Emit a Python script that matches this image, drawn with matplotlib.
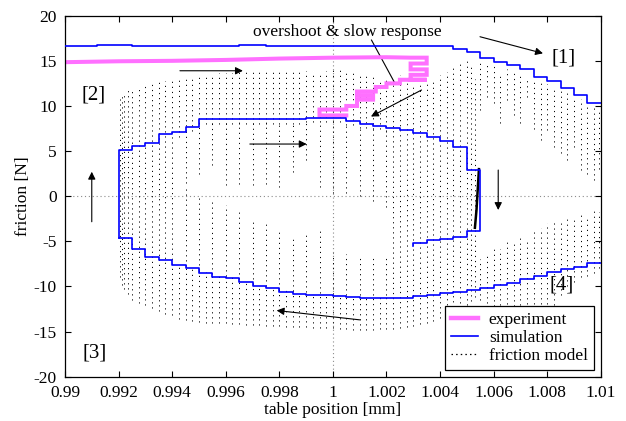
import numpy as np
import matplotlib
matplotlib.use("Agg")
import matplotlib.pyplot as plt
from matplotlib.lines import Line2D

plt.rcParams['font.family'] = ['Liberation Serif', 'DejaVu Serif']
plt.rcParams['axes.unicode_minus'] = False

# measured friction (polyline vertices)
exp_x = [0.9900, 0.9920, 0.9940, 0.9960, 0.9980, 1.0000, 1.0020, 1.0029,
         1.0035, 1.0035, 1.0029, 1.0029, 1.0035, 1.0035, 1.0029, 1.0029, 1.0035, 1.0035,
         1.0025, 1.0025, 1.0020, 1.0020, 1.0016, 1.0016, 1.0009, 1.0009, 1.0015, 1.0015,
         1.0009, 1.0009, 1.0005, 1.0005, 0.9995, 0.9995, 1.0005]
exp_y = [14.85, 14.95, 15.0, 15.1, 15.25, 15.35, 15.4, 15.35,
         15.35, 14.7, 14.7, 14.05, 14.05, 13.45, 13.45, 12.9, 12.9, 12.9,
         12.9, 12.5, 12.5, 12.1, 12.1, 11.6, 11.6, 11.15, 11.15, 10.7,
         10.7, 10.0, 10.0, 9.6, 9.6, 8.95, 8.95]

# simulation, upper branch (step levels)
sim_top_x = [0.9900, 0.9912, 0.9925, 0.9950, 0.9965, 0.9975, 0.9985, 1.0000, 1.0020,
             1.0030, 1.0045, 1.0050, 1.0055, 1.0060, 1.0065, 1.0070, 1.0075, 1.0080,
             1.0085, 1.0090, 1.0095, 1.0100]
sim_top_y = [16.6, 16.7, 16.6, 16.6, 16.7, 16.6, 16.6, 16.65, 16.6,
             16.6, 16.3, 16.0, 15.3, 14.9, 14.5, 14.1, 13.2, 12.8,
             12.0, 11.2, 10.3, 10.3]

# simulation, lower branch
sim_bot_x = [0.9920, 0.9925, 0.9930, 0.9935, 0.9940, 0.9945, 0.9950, 0.9955, 0.9960,
             0.9965, 0.9970, 0.9975, 0.9980, 0.9985, 0.9990, 0.9995, 1.0000, 1.0005,
             1.0010, 1.0015, 1.0020, 1.0025, 1.0030, 1.0035, 1.0040, 1.0045, 1.0050,
             1.0055, 1.0060, 1.0065, 1.0070, 1.0075, 1.0080, 1.0085, 1.0090, 1.0095, 1.0100]
sim_bot_y = [-4.6, -5.8, -6.7, -7.1, -7.6, -8.0, -8.5, -8.9, -9.1,
             -9.5, -10.0, -10.2, -10.6, -10.8, -10.95, -11.0, -11.1, -11.2,
             -11.25, -11.3, -11.3, -11.25, -11.1, -10.95, -10.75, -10.6, -10.4,
             -10.2, -9.85, -9.6, -9.2, -8.8, -8.4, -8.1, -7.8, -7.4, -7.4]

# simulation, inner loop
sim_in_x = [0.9920, 0.9920, 0.9925, 0.9930, 0.9935, 0.9940, 0.9945, 0.9950, 0.9990,
            1.0005, 1.0010, 1.0015, 1.0020, 1.0025, 1.0030, 1.0035, 1.0040, 1.0045,
            1.0050, 1.0055, 1.0050, 1.0045, 1.0040, 1.0035, 1.0030]
sim_in_y = [-4.6, 5.1, 5.6, 5.9, 6.9, 7.1, 7.7, 8.5, 8.65,
            8.3, 8.05, 7.8, 7.55, 7.3, 7.0, 6.6, 6.15, 5.4,
            2.9, -3.9, -4.5, -4.7, -4.85, -5.2, -5.5]

# friction model strands: (x, top, bottom)
fm_left = [(0.99205, 10.8, -9.0), (0.99212, 11.2, -9.8), (0.99220, 11.5, -10.3),
           (0.99235, 11.8, -10.8), (0.99250, 12.0, -11.5), (0.99275, 12.2, -11.8),
           (0.99300, 12.4, -12.0), (0.99325, 12.6, -12.4), (0.99350, 12.7, -12.7),
           (0.99375, 12.8, -13.0), (0.99400, 12.9, -13.2)]
fm_upper = [(0.99425, 13.0, 6.6), (0.99450, 13.1, 7.2), (0.99475, 13.2, 7.2),
            (0.99500, 13.3, 8.0), (0.99525, 13.4, 8.0), (0.99550, 13.5, 8.0),
            (0.99575, 13.6, 8.0), (0.99600, 13.6, 8.0), (0.99625, 13.7, 8.0),
            (0.99650, 13.8, 8.0), (0.99675, 13.8, 8.0), (0.99700, 13.9, 8.0),
            (0.99725, 14.0, 8.0), (0.99750, 14.0, 8.0), (0.99775, 14.1, 8.0),
            (0.99800, 14.0, 8.0), (0.99825, 14.1, 8.0), (0.99850, 14.0, 8.0),
            (0.99875, 14.0, 8.0), (0.99900, 13.9, 8.2), (0.99925, 13.8, 8.2),
            (0.99950, 13.7, 8.2), (0.99975, 13.9, 8.2), (1.00000, 14.2, 8.2),
            (1.00025, 14.1, 8.2), (1.00050, 14.0, 7.9), (1.00075, 13.8, 7.9),
            (1.00100, 13.6, 7.6), (1.00125, 13.4, 7.6), (1.00150, 13.2, 7.4),
            (1.00175, 13.0, 7.4), (1.00200, 13.0, 7.1)]
fm_hang = [(0.99450, 7.4, 1.5), (0.99500, 8.2, 2.5), (0.99550, 8.2, 3.5),
           (0.99600, 8.2, 1.2), (0.99650, 8.2, 1.3), (0.99700, 8.2, 1.2),
           (0.99750, 8.2, 1.3), (0.99800, 8.2, 1.0), (0.99850, 8.2, 2.7),
           (0.99900, 8.3, 4.0), (0.99950, 8.3, 1.0), (1.00000, 8.3, 0.3),
           (1.00050, 8.0, 0.3), (1.00100, 7.8, 0.0), (1.00150, 7.5, -0.5),
           (1.00200, 7.3, -1.2)]
fm_inner_low = [(0.99450, 0.9, -7.7), (0.99500, 0.0, -8.2), (0.99550, -0.6, -8.6),
                (0.99600, -1.0, -8.8), (0.99650, -1.8, -9.2), (0.99700, -2.5, -9.7),
                (0.99750, -3.0, -9.9), (0.99800, -3.6, -10.3), (0.99850, -4.7, -10.5),
                (0.99900, -4.2, -10.6), (0.99950, -3.9, -10.7), (1.00000, -6.3, -10.8),
                (1.00050, -6.4, -10.9), (1.00100, -6.5, -11.0), (1.00150, -6.7, -11.0),
                (1.00200, -6.9, -11.0)]
fm_lower = [(0.99425, -7.6, -13.6), (0.99450, -7.8, -13.7), (0.99475, -8.0, -13.8),
            (0.99500, -8.2, -13.9), (0.99525, -8.4, -14.0), (0.99550, -8.6, -14.0),
            (0.99575, -8.7, -14.1), (0.99600, -8.8, -14.1), (0.99625, -9.0, -14.2),
            (0.99650, -9.2, -14.2), (0.99675, -9.4, -14.3), (0.99700, -9.6, -14.3),
            (0.99725, -9.8, -14.3), (0.99750, -10.0, -14.4), (0.99775, -10.1, -14.4),
            (0.99800, -10.3, -14.4), (0.99825, -10.4, -14.5), (0.99850, -10.5, -14.5),
            (0.99875, -10.6, -14.5), (0.99900, -10.7, -14.5), (0.99925, -10.7, -14.6),
            (0.99950, -10.8, -14.6), (0.99975, -10.9, -14.6), (1.00000, -10.9, -14.6),
            (1.00025, -11.0, -14.7), (1.00050, -11.0, -14.7), (1.00075, -11.0, -14.8),
            (1.00100, -11.0, -14.8), (1.00125, -11.0, -14.8), (1.00150, -11.0, -14.8),
            (1.00175, -11.0, -14.7), (1.00200, -11.0, -14.7)]
fm_dense = [(1.00225, 13.2, -14.7), (1.00250, 13.4, -14.6), (1.00275, 12.5, -14.5),
            (1.00300, 12.3, -14.4), (1.00325, 12.3, -14.2), (1.00350, 12.5, -14.0),
            (1.00375, 13.0, -13.8), (1.00400, 13.4, -13.5), (1.00425, 13.8, -13.2),
            (1.00450, 14.4, -12.8), (1.00475, 15.0, -12.4), (1.00500, 15.3, -12.0),
            (1.00515, 14.5, -11.6), (1.00530, 13.0, -11.2)]
fm_right_up = [(1.00550, 14.8, 9.5), (1.00575, 14.6, 11.0), (1.00600, 14.5, 10.3),
               (1.00625, 13.6, 8.1), (1.00650, 14.1, 10.7), (1.00675, 13.8, 9.0),
               (1.00700, 13.7, 8.1), (1.00725, 13.0, 11.0), (1.00750, 12.8, 7.5),
               (1.00775, 12.5, 6.2), (1.00800, 12.4, 7.3), (1.00825, 12.0, 5.5),
               (1.00850, 11.8, 4.8), (1.00875, 11.5, 4.0), (1.00900, 11.0, 5.5),
               (1.00925, 10.8, 2.9), (1.00950, 10.3, 2.5), (1.00975, 10.0, 1.8),
               (1.00995, 9.6, 3.0)]
fm_right_low = [(1.00550, -7.0, -11.5), (1.00575, -6.3, -11.8), (1.00600, -5.6, -12.2),
                (1.00625, -5.8, -12.0), (1.00650, -4.9, -11.9), (1.00675, -5.2, -12.2),
                (1.00700, -4.5, -12.0), (1.00725, -4.8, -12.5), (1.00750, -3.8, -12.5),
                (1.00775, -3.5, -12.5), (1.00800, -3.0, -12.5), (1.00825, -2.6, -12.0),
                (1.00850, -2.8, -11.0), (1.00875, -2.3, -10.0), (1.00900, -2.5, -9.5),
                (1.00925, -1.9, -9.0), (1.00950, -2.2, -8.8), (1.00975, -1.3, -8.5),
                (1.00995, -1.8, -8.0)]
# stiction segment near the reversal
fm_stick_x = [1.00545, 1.00541, 1.00536, 1.00530]
fm_stick_y = [3.0, 1.0, -1.5, -3.5]

xticks = [0.99, 0.992, 0.994, 0.996, 0.998, 1.0, 1.002, 1.004, 1.006, 1.008, 1.01]
xtick_labels = ['0.99', '0.992', '0.994', '0.996', '0.998', '1',
                '1.002', '1.004', '1.006', '1.008', '1.01']
yticks = [-20, -15, -10, -5, 0, 5, 10, 15, 20]

fig = plt.figure(figsize=(6.26, 4.21), dpi=100)
ax = fig.add_axes([0.1038, 0.1052, 0.856, 0.8575])

ax.axhline(0, color='0.55', ls=(0, (1, 2.5)), lw=0.8, zorder=0)
ax.axvline(1.0, color='0.55', ls=(0, (1, 2.5)), lw=0.8, zorder=0)

strand_ls = (0, (1.2, 4.0))
for group in (fm_left, fm_upper, fm_hang, fm_inner_low, fm_lower,
              fm_dense, fm_right_up, fm_right_low):
    g = np.array(group)
    ax.vlines(g[:, 0], g[:, 2], g[:, 1], colors='k', linestyles=strand_ls,
              linewidth=0.7, zorder=1)
ax.plot(fm_stick_x, fm_stick_y, color='k', lw=1.8, zorder=1)

exp_color = '#ff70ff'
ax.plot(exp_x, exp_y, color=exp_color, lw=2.9, solid_joinstyle='miter', zorder=2)

sim_kw = dict(drawstyle='steps-post', color='#0000ff', lw=1.2, zorder=3)
ax.plot(sim_top_x, sim_top_y, **sim_kw)
ax.plot(sim_bot_x, sim_bot_y, **sim_kw)
ax.plot(sim_in_x, sim_in_y, **sim_kw)

arrow_kw = dict(arrowstyle='-|>', color='k', lw=0.8, mutation_scale=11,
                shrinkA=0, shrinkB=0)
arrows = [((1.00549, 17.67), (1.00784, 15.83)),
          ((0.99429, 13.9), (0.99664, 13.9)),
          ((0.99690, 5.78), (0.99902, 5.78)),
          ((1.00331, 11.77), (1.00142, 8.83)),
          ((0.99100, -2.83), (0.99100, 2.71)),
          ((1.00617, 2.9), (1.00617, -1.53)),
          ((1.00100, -13.7), (0.99790, -12.66))]
for start, end in arrows:
    ax.annotate('', xy=end, xytext=start, arrowprops=arrow_kw, zorder=4)

ax.text(1.00052, 18.2, 'overshoot & slow response', ha='center', va='center', fontsize=12.5)
ax.plot([1.00144, 1.00231], [17.3, 12.54], color='k', lw=0.8, zorder=1.5)

for label, (lx, ly) in {'[1]': (1.00862, 15.3), '[2]': (0.99106, 11.2),
                        '[3]': (0.99112, -17.4), '[4]': (1.00853, -9.84)}.items():
    ax.text(lx, ly, label, ha='center', va='center', fontsize=15, zorder=5)

ax.set_xlim(0.99, 1.01)
ax.set_ylim(-20, 20)
ax.set_xticks(xticks)
ax.set_xticklabels(xtick_labels)
ax.set_yticks(yticks)
ax.tick_params(direction='in', top=True, right=True, length=4.5, width=0.8,
               labelsize=12.5, pad=6)
for s in ax.spines.values():
    s.set_linewidth(0.9)
ax.set_xlabel('table position [mm]', fontsize=12.5, labelpad=1)
ax.set_ylabel('friction [N]', fontsize=12.5, labelpad=2)

handles = [Line2D([], [], color=exp_color, lw=3.2),
           Line2D([], [], color='#0000ff', lw=1.2),
           Line2D([], [], color='k', ls=(0, (1.2, 2.5)), lw=0.9)]
leg = ax.legend(handles, ['experiment', 'simulation', 'friction model'],
                loc='lower right', fontsize=12.5, fancybox=False, framealpha=1,
                edgecolor='k', borderaxespad=0.4, handlelength=1.6,
                handletextpad=0.6, labelspacing=0.1, borderpad=0.35)
leg.get_frame().set_linewidth(0.9)
leg.set_zorder(6)

fig.savefig('out.png', dpi=100)
